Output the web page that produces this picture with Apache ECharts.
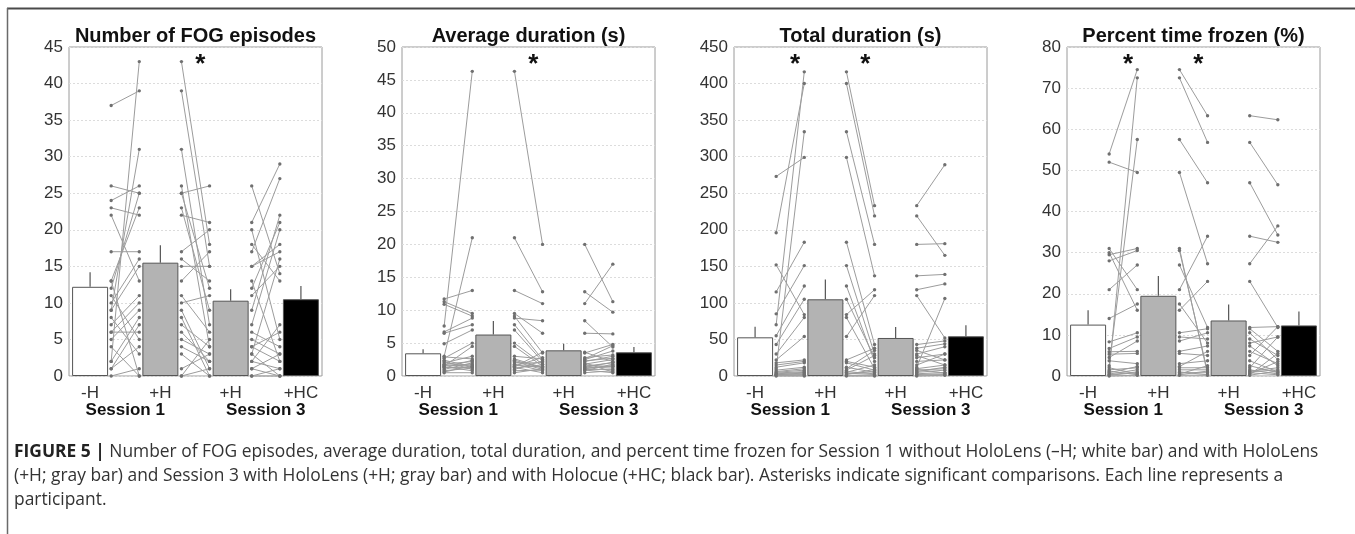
<!DOCTYPE html>
<html>
<head>
<meta charset="utf-8">
<script src="https://cdn.jsdelivr.net/npm/echarts@6/dist/echarts.min.js"></script>
<style>
html,body{margin:0;padding:0;background:#fff;}
#chart{width:1355px;height:534px;}
</style>
</head>
<body>
<div id="chart"></div>
<script>
// ---------------- DATA ----------------
const panelTitles = ['Number of FOG episodes', 'Average duration (s)', 'Total duration (s)', 'Percent time frozen (%)'];
const conditionLabels = ['-H', '+H', '+H', '+HC'];
const sessionLabels = ['Session 1', 'Session 3'];
const yMaxes = [45, 50, 450, 80];
const yIntervals = [5, 5, 50, 10];

// group means (bars) and standard errors (whiskers)
const fogMean = [12.2, 15.5, 10.3, 10.5];
const fogSE   = [2.0, 2.4, 1.55, 1.8];
const avgMean = [3.45, 6.3, 3.9, 3.6];
const avgSE   = [0.6, 2.05, 1.0, 0.8];
const totMean = [52.9, 104.9, 52, 54.3];
const totSE   = [14.6, 27.1, 15, 15];
const pctMean = [12.5, 19.5, 13.5, 12.3];
const pctSE   = [3.5, 4.8, 3.9, 3.4];

// participants: Session 1 -H, Session 1 +H, Session 3 +H, Session 3 +HC
const fogNoH1 = [37, 2, 9, 26, 24, 23, 22, 17, 13, 12, 11, 10, 9, 8, 7, 6, 6, 5, 4, 2, 1, 1, 0, 13];
const fogH1   = [39, 43, 31, 25, 26, 22, 13, 17, 23, 25, 5, 16, 15, 3, 11, 10, 6, 9, 0, 8, 7, 4, 1, 0];
const fogH3   = [15, 18, 7, 26, 4, 21, 17, 20, 9, 12, 3, 13, 15, 0, 6, 11, 2, 1, 5, 0, 4, 2, 3, 1];
const fogHC   = [17, 13, 20, 14, 6, 29, 27, 5, 22, 21, 16, 2, 18, 1, 4, 15, 7, 0, 3, 0, 2, 1, 0, 3];

const avgNoH1 = [11.7, 7.6, 3.0, 11.3, 10.9, 6.7, 6.5, 4.9, 2.7, 1.5, 2.0, 1.2, 1.8, 1.0, 1.6, 0.6, 2.4, 1.3, 0.8, 2.2, 1.4, 0.5, 1.7, 2.9];
const avgH1   = [13, 46.3, 21, 9.5, 9.1, 8.8, 7.8, 7.0, 5.0, 4.5, 3.0, 2.4, 2.2, 2.0, 1.8, 1.6, 1.4, 1.3, 1.2, 1.0, 0.8, 0.5, 1.5, 2.6];
const avgH3   = [11, 20, 12.8, 6.5, 3.5, 8.4, 2.5, 2.2, 1.8, 1.5, 2.6, 1.2, 1.0, 2.0, 0.8, 1.4, 3.6, 0.5, 1.7, 2.3, 0.9, 1.1, 2.8, 1.3];
const avgHC   = [17, 11.3, 9.7, 6.4, 4.8, 4.4, 3.8, 3.0, 2.5, 2.0, 4.6, 1.5, 1.0, 0.6, 1.8, 1.2, 2.2, 0.8, 1.4, 2.7, 0.5, 1.6, 3.2, 2.1];

const totNoH1 = [273, 70, 196, 10, 152, 115, 85, 55, 43, 30, 22, 18, 15, 12, 8, 6, 5, 4, 3, 2, 2, 1, 1, 0];
const totH1   = [299, 416, 400, 334, 84, 183, 151, 123, 105, 80, 54, 22, 20, 18, 12, 10, 8, 6, 5, 4, 3, 2, 1, 0];
const totH3   = [137, 233, 219, 180, 118, 43, 30, 20, 25, 10, 110, 38, 12, 8, 5, 35, 28, 3, 15, 2, 6, 9, 1, 0];
const totHC   = [139, 289, 165, 181, 126, 48, 40, 22, 30, 15, 52, 44, 106, 10, 8, 22, 15, 5, 30, 3, 12, 4, 2, 1];

const pctNoH1 = [54, 52, 1.0, 2.5, 31, 21, 14, 30, 29.5, 28, 8.3, 6.7, 5.9, 5.3, 3.7, 1.5, 0.5, 0.3, 2, 1.2, 0.8, 4.5, 0.2, 0];
const pctH1   = [74.5, 49.5, 72.5, 57.5, 21, 27, 17.5, 16, 31, 30.5, 10.5, 9.5, 6, 5.5, 3, 2, 1.5, 1, 0.5, 0.3, 2.3, 8.5, 0.8, 0.2];
const pctH3   = [63.3, 27.3, 56.8, 47, 34, 11.8, 8, 23, 0.5, 1, 11.5, 9, 7.3, 5, 3.7, 2, 1.5, 0.3, 2.5, 1.2, 6, 10.5, 0.8, 0.2];
const pctHC   = [62.3, 36.5, 46.5, 34.3, 32.5, 12, 9.5, 11.8, 3.5, 1.5, 6, 5, 2.5, 12, 1, 9.5, 0.5, 5.5, 0.8, 2, 3, 4, 0.3, 1.2];

// significant comparisons (asterisks): 0 = Session 1 -H vs +H, 1 = +H Session 1 vs Session 3
const fogStars = [1];
const avgStars = [1];
const totStars = [0, 1];
const pctStars = [0, 1];

const captionBold = 'FIGURE 5 |';
const captionLines = [
  ' Number of FOG episodes, average duration, total duration, and percent time frozen for Session 1 without HoloLens (\u2013H; white bar) and with HoloLens',
  '(+H; gray bar) and Session 3 with HoloLens (+H; gray bar) and with Holocue (+HC; black bar). Asterisks indicate significant comparisons. Each line represents a',
  'participant.'
];

// ---------------- CHART ----------------
const FONT = '"Liberation Sans", Arial, Helvetica, sans-serif';
const CAP_FONT = '"Open Sans", "Liberation Sans", Arial, sans-serif';
const panels = [
  { mean: fogMean, se: fogSE, cols: [fogNoH1, fogH1, fogH3, fogHC], stars: fogStars },
  { mean: avgMean, se: avgSE, cols: [avgNoH1, avgH1, avgH3, avgHC], stars: avgStars },
  { mean: totMean, se: totSE, cols: [totNoH1, totH1, totH3, totHC], stars: totStars },
  { mean: pctMean, se: pctSE, cols: [pctNoH1, pctH1, pctH3, pctHC], stars: pctStars }
];
const gridLefts = [69, 402, 734, 1067];
const GRID_W = 253, GRID_TOP = 47, GRID_H = 329;
const barColors = ['#ffffff', '#b3b3b3', '#b3b3b3', '#000000'];
const X_MIN = -0.3, X_MAX = 3.3;

const grids = [], xAxes = [], yAxes = [], titles = [], series = [];

function pairRender(params, api) {
  const a = api.coord([api.value(0), api.value(1)]);
  const b = api.coord([api.value(2), api.value(3)]);
  return {
    type: 'group',
    children: [
      { type: 'line', shape: { x1: a[0], y1: a[1], x2: b[0], y2: b[1] }, style: { stroke: '#9c9c9c', lineWidth: 1 } },
      { type: 'circle', shape: { cx: a[0], cy: a[1], r: 1.7 }, style: { fill: '#707070' } },
      { type: 'circle', shape: { cx: b[0], cy: b[1], r: 1.7 }, style: { fill: '#707070' } }
    ]
  };
}
function errRender(params, api) {
  const a = api.coord([api.value(0), api.value(1)]);
  const b = api.coord([api.value(0), api.value(2)]);
  return { type: 'line', shape: { x1: a[0], y1: a[1], x2: b[0], y2: b[1] }, style: { stroke: '#555', lineWidth: 1.2 } };
}
function starRender(params, api) {
  const p = api.coord([api.value(0), api.value(1)]);
  return { type: 'text', x: p[0], y: p[1], style: { text: '*', font: 'bold 26px ' + FONT, fill: '#111', align: 'center', verticalAlign: 'middle' } };
}

panels.forEach((pn, p) => {
  grids.push({ left: gridLefts[p], top: GRID_TOP, width: GRID_W, height: GRID_H, show: true, borderColor: '#9a9a9a', borderWidth: 1, backgroundColor: 'transparent', containLabel: false });
  xAxes.push({
    type: 'value', gridIndex: p, min: X_MIN, max: X_MAX,
    axisLine: { show: false }, axisTick: { show: false }, splitLine: { show: false },
    axisLabel: { customValues: [0, 1, 2, 3], formatter: v => conditionLabels[Math.round(v)], fontSize: 17, color: '#333', fontFamily: FONT, margin: 9 }
  });
  xAxes.push({
    type: 'value', gridIndex: p, min: X_MIN, max: X_MAX, position: 'bottom', offset: 17,
    axisLine: { show: false }, axisTick: { show: false }, splitLine: { show: false },
    axisLabel: { customValues: [0.5, 2.5], formatter: v => sessionLabels[Math.round((v - 0.5) / 2)], fontSize: 17, fontWeight: 'bold', color: '#111', fontFamily: FONT, margin: 9 }
  });
  yAxes.push({
    type: 'value', gridIndex: p, min: 0, max: yMaxes[p], interval: yIntervals[p],
    axisLine: { show: false }, axisTick: { show: false },
    splitLine: { show: true, lineStyle: { color: '#dcdcdc', type: [2, 2], width: 1 } },
    axisLabel: { fontSize: 17, color: '#333', fontFamily: FONT, margin: 6 }
  });
  titles.push({
    text: panelTitles[p], left: gridLefts[p] + GRID_W / 2 - 5, top: 21, textAlign: 'center',
    textStyle: { fontSize: 20, fontWeight: 'bold', color: '#111', fontFamily: FONT }
  });
  series.push({
    type: 'bar', xAxisIndex: p * 2, yAxisIndex: p, barWidth: 36, z: 2,
    itemStyle: { borderColor: '#555', borderWidth: 1 },
    data: pn.mean.map((m, i) => ({ value: [i, m], itemStyle: { color: barColors[i] } }))
  });
  series.push({
    type: 'custom', xAxisIndex: p * 2, yAxisIndex: p, z: 3, renderItem: errRender,
    data: pn.mean.map((m, i) => [i, m, m + pn.se[i]])
  });
  for (let k = 0; k < 3; k++) {
    const a = pn.cols[k], b = pn.cols[k + 1];
    series.push({
      type: 'custom', xAxisIndex: p * 2, yAxisIndex: p, z: 4, renderItem: pairRender,
      dimensions: ['x1', 'y1', 'x2', 'y2'], encode: { x: [0, 2], y: [1, 3] },
      data: a.map((v, i) => [k + 0.3, v, k + 0.7, b[i]])
    });
  }
  series.push({
    type: 'custom', xAxisIndex: p * 2, yAxisIndex: p, z: 5, renderItem: starRender,
    data: pn.stars.map(s => [s + 0.57, yMaxes[p] * 0.945])
  });
});

const chart = echarts.init(document.getElementById('chart'), null, { renderer: 'canvas' });
chart.setOption({
  animation: false,
  backgroundColor: '#ffffff',
  title: titles,
  grid: grids,
  xAxis: xAxes,
  yAxis: yAxes,
  series: series,
  graphic: [
    { type: 'line', shape: { x1: 7, y1: 8.5, x2: 1355, y2: 8.5 }, style: { stroke: '#4a4a4a', lineWidth: 2 } },
    { type: 'line', shape: { x1: 7.5, y1: 8, x2: 7.5, y2: 534 }, style: { stroke: '#6a6a6a', lineWidth: 1.5 } },
    {
      type: 'text', left: 14, top: 440,
      style: {
        text: '{b|' + captionBold + '}' + captionLines.join('\n'),
        font: '17.4px ' + CAP_FONT, fill: '#333', lineHeight: 24,
        rich: { b: { fontWeight: 'bold', fontSize: 17.4, fontFamily: CAP_FONT, fill: '#222', lineHeight: 24 } }
      }
    }
  ]
});
</script>
</body>
</html>
